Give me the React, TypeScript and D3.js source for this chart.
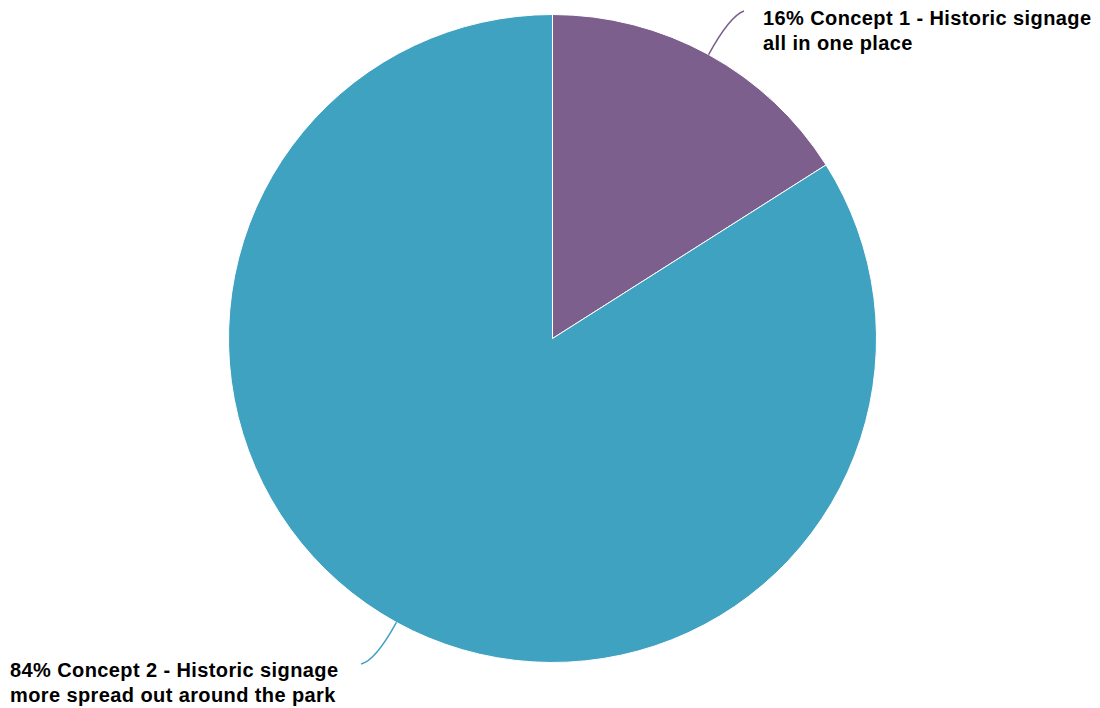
import React from "react";
import * as d3 from "d3";

const categories = [
  "Concept 1 - Historic signage all in one place",
  "Concept 2 - Historic signage more spread out around the park",
];
const values = [16, 84];
const labelLines = [
  ["16% Concept 1 - Historic signage", "all in one place"],
  ["84% Concept 2 - Historic signage", "more spread out around the park"],
];
const colors = ["#7D5F8E", "#40A2C1"];

export default function App() {
  const W = 1100, H = 708;
  const cx = 552.5, cy = 338.5, r = 324;
  const pie = d3.pie<number>().sort(null).value((d) => d);
  const arcs = pie(values);
  const arcGen = d3.arc<d3.PieArcDatum<number>>().innerRadius(0).outerRadius(r);
  const leaders = [
    { end: [744, 11], label: [763, 25] },
    { end: [361, 664], label: [10, 677] },
  ];
  return (
    <svg width={W} height={H} style={{ position: "absolute", left: 0, top: 0 }}>
      <g transform={`translate(${cx},${cy})`}>
        {arcs.map((a, i) => (
          <path key={i} d={arcGen(a) || ""} fill={colors[i]} stroke="#fff" strokeWidth={1} />
        ))}
      </g>
      {arcs.map((a, i) => {
        const mid = (a.startAngle + a.endAngle) / 2;
        const sx = cx + r * Math.sin(mid), sy = cy - r * Math.cos(mid);
        const cr = r + 44;
        const qx = cx + cr * Math.sin(mid), qy = cy - cr * Math.cos(mid);
        const [ex, ey] = leaders[i].end;
        return (
          <path key={"l" + i} d={`M${sx},${sy}Q${qx},${qy} ${ex},${ey}`} fill="none" stroke={colors[i]} strokeWidth={1.5} />
        );
      })}
      {labelLines.map((lines, i) => (
        <text key={"t" + i} x={leaders[i].label[0]} y={leaders[i].label[1]} fontFamily="'Liberation Sans', Arial, sans-serif" fontWeight="bold" fontSize={20} letterSpacing={0.4} fill="#000">
          {lines.map((ln, j) => (
            <tspan key={j} x={leaders[i].label[0]} dy={j === 0 ? 0 : 25}>{ln}</tspan>
          ))}
        </text>
      ))}
    </svg>
  );
}
